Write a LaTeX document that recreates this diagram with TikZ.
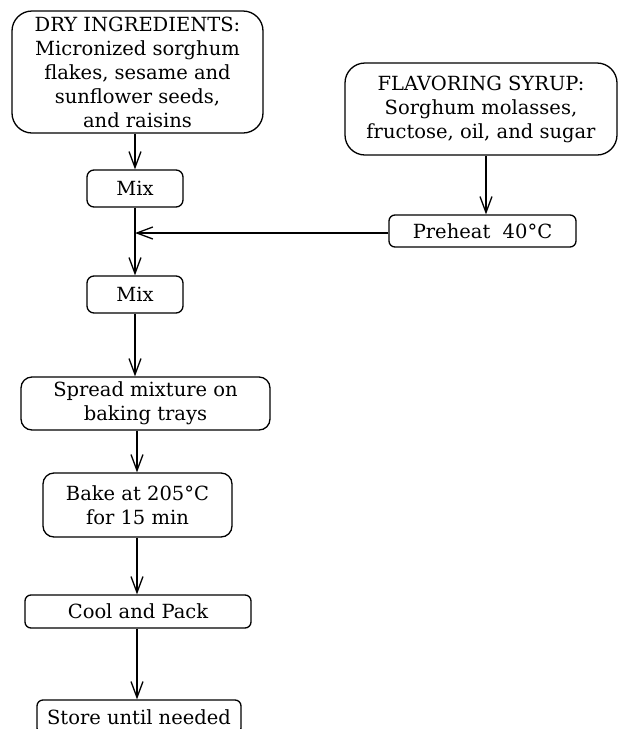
\documentclass[tikz,border=0pt]{standalone}
\usepackage{fontspec}
\setmainfont{DejaVu Serif}
\usetikzlibrary{arrows.meta}
\tikzset{
  box/.style={draw, line width=1.3pt, inner sep=0pt, align=center,
    font=\fontsize{19.5}{24}\selectfont},
  arr/.style={line width=1.4pt, -{Straight Barb[length=16pt,width=12pt,line width=1.3pt]}},
  ln/.style={line width=1.4pt}
}
\begin{document}
\begin{tikzpicture}[x=1pt,y=-1pt]
\useasboundingbox (0,0) rectangle (619,729);
\clip (0,0) rectangle (619,729);
\fill[white] (0,0) rectangle (619,729);
\node[box, minimum width=251pt, minimum height=122pt, rounded corners=20pt] (dry) at (137.5,72)
  {DRY INGREDIENTS:\\Micronized sorghum\\flakes, sesame and\\sunflower seeds,\\and raisins};
\node[box, minimum width=96pt, minimum height=37pt, rounded corners=7pt] (mixa) at (135,188.5) {Mix};
\node[box, minimum width=96pt, minimum height=37pt, rounded corners=7pt] (mixb) at (135,294.5) {Mix};
\node[box, minimum width=272pt, minimum height=92pt, rounded corners=20pt] (flav) at (481,109)
  {FLAVORING SYRUP:\\Sorghum molasses,\\fructose, oil, and sugar};
\node[box, minimum width=187pt, minimum height=32pt, rounded corners=6pt] (pre) at (482.5,231) {Preheat~~40°C};
\node[box, minimum width=249pt, minimum height=53pt, rounded corners=11pt] (spread) at (145.5,403.5)
  {Spread mixture on\\baking trays};
\node[box, minimum width=189pt, minimum height=64pt, rounded corners=11pt] (bake) at (137.5,505)
  {Bake at 205°C\\for 15 min};
\node[box, minimum width=226pt, minimum height=33pt, rounded corners=6pt] (cool) at (138,611.5) {Cool and Pack};
\node[box, minimum width=204pt, minimum height=34pt, rounded corners=6pt] (store) at (139,717) {Store until needed};
% connector helpers
\coordinate (xa) at (135,0);
\coordinate (xb) at (137,0);
\coordinate (xf) at (486,0);
\coordinate (join) at (135,233);
\draw[arr] (dry.south -| xa) -- (mixa.north -| xa);
\draw[ln] (mixa.south -| xa) -- (join);
\draw[arr] (join) -- (mixb.north -| xa);
\draw[arr] (flav.south -| xf) -- (pre.north -| xf);
\draw[arr] (pre.west |- join) -- (join);
\draw[arr] (mixb.south -| xa) -- (spread.north -| xa);
\draw[arr] (spread.south -| xb) -- (bake.north -| xb);
\draw[arr] (bake.south -| xb) -- (cool.north -| xb);
\draw[arr] (cool.south -| xb) -- (store.north -| xb);
\end{tikzpicture}
\end{document}
